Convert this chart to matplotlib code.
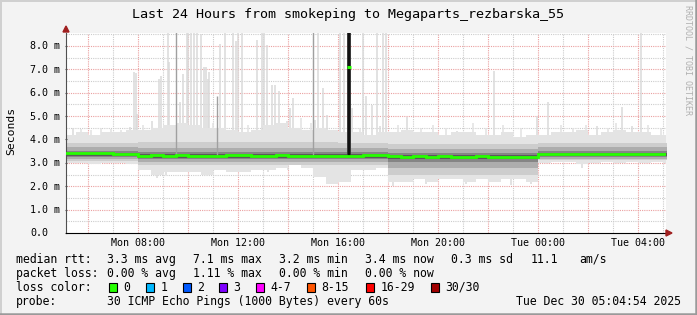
import numpy as np
import matplotlib.pyplot as plt
from matplotlib.patches import Rectangle, Polygon
from matplotlib.lines import Line2D
import matplotlib.transforms as mtransforms

plt.rcParams['font.family'] = 'DejaVu Sans Mono'

# --- data (hours since Mon 00:00, values in ms) ---
t_edges = np.arange(5.0, 29.51, 0.5)  # half-hour bins 05:00 .. 05:30 next day

median = [3.40, 3.42, 3.40, 3.41, 3.38, 3.36,
          3.30, 3.32, 3.31, 3.33, 3.30, 3.31, 3.30, 3.32,
          3.33, 3.31, 3.30, 3.32, 3.31, 3.30, 3.30, 3.28,
          3.30, 3.30, 3.33, 3.32, 3.28, 3.27, 3.28, 3.26,
          3.28, 3.27, 3.26, 3.28, 3.26, 3.24, 3.25, 3.26,
          3.36, 3.37, 3.36, 3.38, 3.37, 3.38, 3.37, 3.39,
          3.37, 3.38, 3.38]

light_hi = [4.2, 4.3, 4.2, 4.3, 4.3, 4.4, 4.4, 4.5, 4.6, 4.7, 4.6, 4.5,
            4.5, 4.4, 4.3, 4.4, 4.6, 4.7, 4.5, 4.4, 4.5, 4.4, 4.3, 4.3,
            4.2, 4.3, 4.3, 4.4, 4.3, 4.3, 4.2, 4.3, 4.3, 4.2, 4.2, 4.3,
            4.1, 4.2, 4.2, 4.3, 4.3, 4.4, 4.2, 4.3, 4.4, 4.3, 4.3, 4.2,
            4.2]
light_lo = [3.0, 3.0, 2.95, 3.0, 3.0, 2.95, 2.7, 2.5, 2.6, 2.6, 2.6, 2.5,
            2.7, 2.6, 2.6, 2.7, 2.7, 2.8, 2.9, 2.8, 2.4, 2.1, 2.2, 2.7,
            2.7, 2.8, 2.2, 2.2, 2.3, 2.2, 2.3, 2.3, 2.2, 2.3, 2.2, 2.3,
            2.3, 2.2, 3.0, 3.05, 3.05, 2.95, 3.0, 3.05, 3.0, 3.05, 3.0, 3.05,
            3.0]

seg_start = [5.0, 8.0, 16.0, 18.0, 24.0]
seg_end = [8.0, 16.0, 18.0, 24.0, 29.5]
outer_lo = [3.08, 2.9, 2.9, 2.5, 3.1]
outer_hi = [3.85, 3.9, 3.85, 3.8, 3.85]
mid_lo = [3.16, 3.05, 3.05, 2.8, 3.18]
mid_hi = [3.68, 3.65, 3.62, 3.6, 3.68]
core_lo = [3.25, 3.17, 3.15, 3.05, 3.25]
core_hi = [3.52, 3.45, 3.45, 3.4, 3.52]
dark_lo = [3.3, 3.22, 3.2, 3.15, 3.3]
dark_hi = [3.44, 3.36, 3.36, 3.32, 3.42]

spike_t = [5.4, 7.68, 7.84, 7.92, 7.96, 8.56, 8.84, 8.92, 9.2, 9.24, 9.68, 9.8,
           9.96, 10.0, 10.12, 10.24, 10.36, 10.52, 10.64, 10.72, 10.8, 10.84,
           11.28, 11.48, 11.8, 11.92, 12.0, 12.16, 12.76, 12.96, 13.04, 13.16,
           13.36, 13.48, 13.64, 13.96, 14.08, 14.2, 15.08, 15.2, 15.4, 15.56,
           16.08, 16.24, 16.56, 17.0, 17.12, 17.36, 17.56, 17.68, 17.8, 17.92,
           18.76, 19.0, 20.76, 22.24, 23.96, 24.4, 26.36, 27.36, 27.76, 28.12,
           28.56]
spike_top = [4.5, 4.55, 6.9, 6.85, 5.1, 4.8, 6.6, 6.7, 8.6, 7.3, 5.6, 6.8,
             8.6, 8.6, 8.6, 8.6, 8.6, 8.5, 7.1, 7.1, 6.6, 6.9,
             8.1, 8.6, 8.6, 8.2, 8.6, 8.6, 8.26, 8.6, 8.6, 8.05,
             6.34, 6.34, 6.05, 4.77, 5.34, 5.77, 4.84, 8.6, 6.2, 5.05,
             8.6, 8.6, 5.34, 8.6, 5.84, 5.48, 8.6, 4.56, 8.6, 8.6,
             4.94, 4.06, 4.34, 6.91, 4.99, 5.62, 4.56, 5.37, 4.56, 8.6,
             4.13]

# short ragged tips on top of the smoke
tip_t = [5.7, 6.1, 6.5, 6.9, 7.3, 8.2, 11.0, 12.4, 14.5, 14.9, 16.9, 18.4, 19.3,
         19.8, 20.3, 21.4, 21.9, 22.6, 23.3, 24.9, 25.4, 25.9, 26.8, 27.1, 28.4, 28.9]
tip_top = [4.45, 4.4, 4.5, 4.45, 4.4, 4.6, 4.7, 4.6, 4.9, 4.7, 4.5, 4.6, 4.5,
           4.6, 4.5, 4.7, 4.5, 4.6, 4.5, 4.6, 4.5, 4.6, 4.5, 4.7, 4.6, 4.5]

dark_t = [9.52, 11.16, 15.0]
dark_top = [8.6, 5.85, 8.6]

low_t = [8.76, 9.1, 10.9, 11.9, 13.2, 14.0, 15.6, 15.9, 18.2, 19.5, 21.1, 22.9, 23.7, 25.76]
low_v = [2.35, 2.5, 2.6, 2.7, 2.6, 2.7, 2.1, 2.2, 2.0, 2.1, 2.1, 2.05, 2.1, 2.78]

burst_t = 16.44     # all-high burst
burst_median = 7.1

xtick_pos = [8, 12, 16, 20, 24, 28]
xtick_lab = ['Mon 08:00', 'Mon 12:00', 'Mon 16:00', 'Mon 20:00', 'Tue 00:00', 'Tue 04:00']
ytick_pos = [0, 1, 2, 3, 4, 5, 6, 7, 8]
ytick_lab = ['0.0', '1.0 m', '2.0 m', '3.0 m', '4.0 m', '5.0 m', '6.0 m', '7.0 m', '8.0 m']

loss_labels = ['0', '1', '2', '3', '4-7', '8-15', '16-29', '30/30']
loss_colors = ['#26ff00', '#00b8ff', '#0059ff', '#7e00ff', '#ff00ff', '#ff5500', '#ff0000', '#a10000']

W, H = 697, 315
def fx(x): return x / W
def fy(y): return 1 - y / H

fig = plt.figure(figsize=(W / 100, H / 100), dpi=100, facecolor='#f3f3f3')
ax = fig.add_axes([fx(66), fy(233), 600 / W, 200 / H])
ax.set_facecolor('white')
ax.set_xlim(5.12, 29.12)
ax.set_ylim(0, 8.55)

# grid
for h in range(6, 30):
    c = '#eaa0a0' if h % 2 == 0 else '#cccccc'
    ax.axvline(h, color=c, lw=0.8, ls=(0, (1, 1)), zorder=0)
for v in np.arange(0.5, 8.6, 0.5):
    c = '#eaa0a0' if v % 1 == 0 else '#cccccc'
    ax.axhline(v, color=c, lw=0.8, ls=(0, (1, 1)), zorder=0)

# smoke
for t, v in zip(spike_t, spike_top):
    ax.vlines(t, 3.3, v, color='#dadada', lw=1.1, zorder=1)
for t, v in zip(tip_t, tip_top):
    ax.vlines(t, 3.3, v, color='#e2e2e2', lw=1.1, zorder=1)
for t, v in zip(low_t, low_v):
    ax.vlines(t, v, 3.3, color='#dadada', lw=1.1, zorder=1)
ax.stairs(light_hi, t_edges, baseline=light_lo, fill=True, color='#e4e4e4', zorder=1.5)
layers = [(outer_lo, outer_hi, '#cdcdcd'), (mid_lo, mid_hi, '#adadad'),
          (core_lo, core_hi, '#858585'), (dark_lo, dark_hi, '#5a5a5a')]
for k, (los, his, col) in enumerate(layers):
    for s, e, lo, hi in zip(seg_start, seg_end, los, his):
        ax.fill_between([s, e], lo, hi, color=col, lw=0, zorder=2 + k * 0.1)
for t, v in zip(dark_t, dark_top):
    ax.vlines(t, 3.3, v, color='#a0a0a0', lw=1.0, zorder=2.5)
ax.fill_between([burst_t - 0.09, burst_t + 0.09], 3.3, 8.6, color='#3a3a3a', lw=0, zorder=3)
ax.fill_between([burst_t - 0.03, burst_t + 0.05], 3.3, 8.6, color='#111111', lw=0, zorder=3.1)
ax.stairs(median, t_edges, baseline=None, color='#26ff00', lw=2.0, zorder=4)
ax.hlines(burst_median, burst_t - 0.07, burst_t + 0.07, color='#26ff00', lw=2.2, zorder=4)

# axes styling
for s in ['top', 'right']:
    ax.spines[s].set_visible(False)
ax.spines['left'].set_color('#505050')
ax.spines['bottom'].set_color('black')
ax.set_xticks(xtick_pos)
ax.set_xticklabels(xtick_lab, fontsize=7.2)
ax.tick_params(axis='x', length=0, pad=3.5)
ax.set_yticks(ytick_pos)
ax.set_yticklabels([])
ax.tick_params(axis='y', length=2, direction='inout', color='#505050')

trans = mtransforms.blended_transform_factory(fig.transFigure, ax.transData)
trans = mtransforms.offset_copy(trans, fig=fig, y=-3.5, units='dots')
for v, lab in zip(ytick_pos, ytick_lab):
    fig.text(fx(30), v, lab, transform=trans, fontsize=7.2, ha='left', va='baseline')

# arrows
fig.patches.append(Polygon([[fx(63), fy(32)], [fx(69), fy(32)], [fx(66), fy(26)]],
                           closed=True, color='#a02020', transform=fig.transFigure))
fig.patches.append(Polygon([[fx(666), fy(230)], [fx(666), fy(236)], [fx(672), fy(233)]],
                           closed=True, color='#a02020', transform=fig.transFigure))

# titles
fig.text(fx(348), fy(18), 'Last 24 Hours from smokeping to Megaparts_rezbarska_55',
         fontsize=9.6, ha='center', va='baseline')
fig.text(fx(11), fy(131), 'Seconds', fontsize=8.2, rotation=90, ha='center', va='center')
fig.text(fx(688), fy(60), 'RRDTOOL / TOBI OETIKER', fontsize=6, rotation=-90,
         ha='center', va='center', color='#b0b0b0')

# legend
fs = 8.3
def row(y, items):
    for x, s in items:
        fig.text(fx(x), fy(y), s, fontsize=fs, ha='left', va='baseline')

row(263, [(16, 'median rtt:'), (107, '3.3 ms avg'), (193, '7.1 ms max'), (279, '3.2 ms min'),
          (365, '3.4 ms now'), (451, '0.3 ms sd'), (531, '11.1'), (579, 'am/s')])
row(277, [(16, 'packet loss:'), (107, '0.00 % avg'), (193, '1.11 % max'), (279, '0.00 % min'),
          (365, '0.00 % now')])
row(291, [(16, 'loss color:')])
box_x = [109, 146, 183, 219, 256, 307, 366, 431]
for bx, lab, c in zip(box_x, loss_labels, loss_colors):
    fig.patches.append(Rectangle((fx(bx), fy(292)), 8 / W, 9 / H, facecolor=c,
                                 edgecolor='black', lw=0.8, transform=fig.transFigure))
    fig.text(fx(bx + 14.5), fy(291), lab, fontsize=fs, ha='left', va='baseline')
row(305, [(16, 'probe:'), (107, '30 ICMP Echo Pings (1000 Bytes) every 60s')])
fig.text(fx(681), fy(305), 'Tue Dec 30 05:04:54 2025', fontsize=fs, ha='right', va='baseline')

# frame
fig.add_artist(Line2D([0, 1], [fy(0.5), fy(0.5)], color='#d0d0d0', lw=1.4, transform=fig.transFigure))
fig.add_artist(Line2D([fx(0.5), fx(0.5)], [0, 1], color='#d0d0d0', lw=1.4, transform=fig.transFigure))
fig.add_artist(Line2D([0, 1], [fy(314), fy(314)], color='#9a9a9a', lw=1.8, transform=fig.transFigure))
fig.add_artist(Line2D([fx(696), fx(696)], [0, 1], color='#9a9a9a', lw=1.8, transform=fig.transFigure))

fig.savefig('out.png', dpi=100, facecolor=fig.get_facecolor())
